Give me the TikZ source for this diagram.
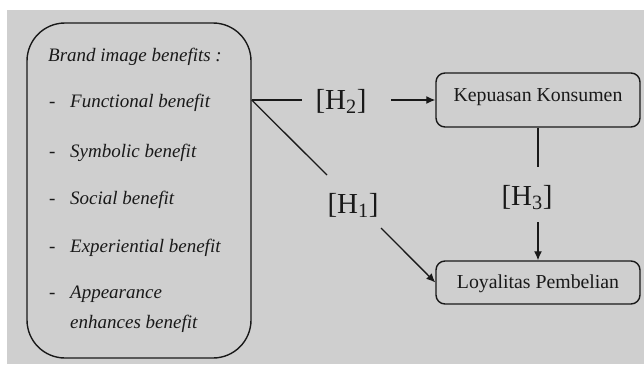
\documentclass[tikz,border=0pt]{standalone}
\usepackage{fontspec}
\setmainfont{Liberation Serif}
\usetikzlibrary{arrows.meta}
\definecolor{bg}{RGB}{207,207,207}
\definecolor{ink}{RGB}{25,25,25}
\begin{document}
\begin{tikzpicture}[x=1pt,y=-1pt,
  bigbox/.style={draw=ink,line width=1.4pt,rounded corners=38pt,minimum width=224pt,minimum height=335pt,inner sep=0pt},
  box/.style={draw=ink,line width=1.4pt,rounded corners=9pt,minimum width=204pt,inner sep=0pt},
  item/.style={anchor=base west,inner sep=0pt,font=\fontsize{19}{22}\selectfont,text=ink},
  hlab/.style={font=\fontsize{29}{32}\selectfont,text=ink,inner sep=0pt,anchor=base},
  btext/.style={font=\fontsize{19.8}{24}\selectfont,text=ink,anchor=base,inner sep=0pt},
  conn/.style={draw=ink,line width=1.3pt},
  arr/.style={conn,-{Latex[length=9pt,width=8pt]}}]
\useasboundingbox (0,0) rectangle (644,364);
\fill[white] (0,0) rectangle (644,364);
\fill[bg] (7,10) rectangle (644,364);

% left box
\node[bigbox] (bib) at (139,190.5) {};
\node[item] (t0) at (48,61) {\itshape Brand image benefits :};
\node[item] (t1) at (49,107) {\makebox[21pt][l]{-}\itshape Functional benefit};
\node[item] (t2) at (49,157) {\makebox[21pt][l]{-}\itshape Symbolic benefit};
\node[item] (t3) at (49,204) {\makebox[21pt][l]{-}\itshape Social benefit};
\node[item] (t4) at (49,252) {\makebox[21pt][l]{-}\itshape Experiential benefit};
\node[item] (t5) at (49,298) {\makebox[21pt][l]{-}\itshape Appearance};
\node[item] (t6) at (70,328) {\itshape enhances benefit};

% right boxes
\node[box,minimum height=54pt] (K) at (538,100) {};
\node[btext] (Kt) at (538,101) {Kepuasan Konsumen};
\node[box,minimum height=43pt] (L) at (538,282.5) {};
\node[btext] (Lt) at (538,288) {Loyalitas Pembelian};

% labels
\node[hlab] (h2) at (341,109) {[H\textsubscript{2}]};
\node[hlab] (h1) at (353,213) {[H\textsubscript{1}]};
\node[hlab] (h3) at (527,205) {[H\textsubscript{3}]};

% connectors
\coordinate (src) at (bib.east |- K.west);
\coordinate (h2a) at (302,100);
\coordinate (h2b) at (391,100);
\coordinate (h1a) at (327,175);
\coordinate (h1b) at (381,228);
\coordinate (h3a) at (538,167);
\coordinate (h3b) at (538,222);
\draw[conn] (src) -- (h2a);
\draw[arr] (h2b) -- (K.west);
\draw[conn] (src) -- (h1a);
\draw[arr] (h1b) -- (L.west);
\draw[conn] (K.south) -- (h3a);
\draw[arr] (h3b) -- (L.north);
\end{tikzpicture}
\end{document}
